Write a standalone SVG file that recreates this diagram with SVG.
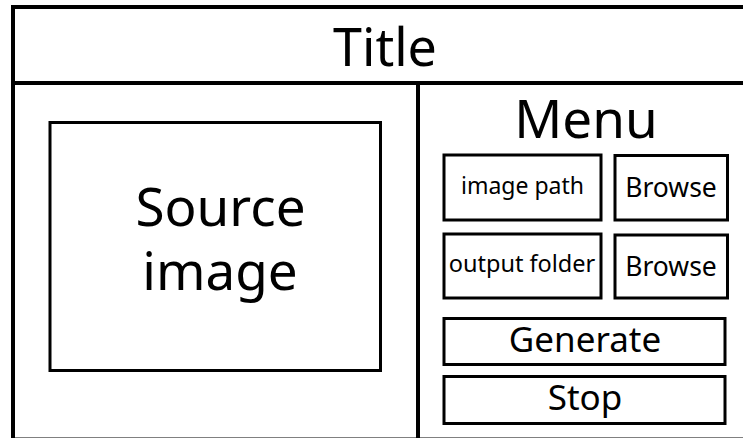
<svg xmlns="http://www.w3.org/2000/svg" width="743" height="438" viewBox="0 0 743 438">
<style>
text{font-family:"Noto Sans","Open Sans",sans-serif;fill:#000;text-anchor:middle}
.frame{fill:none;stroke:#000;stroke-width:4}
.box{fill:#fff;stroke:#000;stroke-width:3}
</style>
<rect width="743" height="438" fill="#fff"/>
<g id="frame">
<rect class="frame" x="13" y="7" width="740" height="432.5"/>
</g>
<g id="connectors">
<line class="frame" x1="13" y1="83" x2="745" y2="83"/>
<line class="frame" x1="418" y1="83" x2="418" y2="440"/>
</g>
<g id="title"><text x="385" y="66" font-size="52">Title</text></g>
<g id="source"><rect class="box" x="50" y="122.5" width="330.5" height="248"/>
<text x="220.5" y="226" font-size="53">Source</text><text x="220" y="290" font-size="53">image</text></g>
<g id="menu"><text x="586" y="138" font-size="53">Menu</text></g>
<g id="imagepath"><rect class="box" x="444" y="155" width="157" height="65"/><text x="522.5" y="194" font-size="23">image path</text></g>
<g id="browse1"><rect class="box" x="615" y="155.5" width="112.5" height="64.5"/><text x="671" y="197" font-size="26.5">Browse</text></g>
<g id="outputfolder"><rect class="box" x="444" y="234" width="157" height="64"/><text x="522" y="272" font-size="23.5">output folder</text></g>
<g id="browse2"><rect class="box" x="615" y="235" width="112.5" height="63"/><text x="671" y="276" font-size="26.5">Browse</text></g>
<g id="generate"><rect class="box" x="444" y="318.5" width="281" height="46"/><text x="585" y="352" font-size="35">Generate</text></g>
<g id="stop"><rect class="box" x="444" y="376.5" width="281" height="47"/><text x="585" y="410" font-size="35">Stop</text></g>
</svg>
